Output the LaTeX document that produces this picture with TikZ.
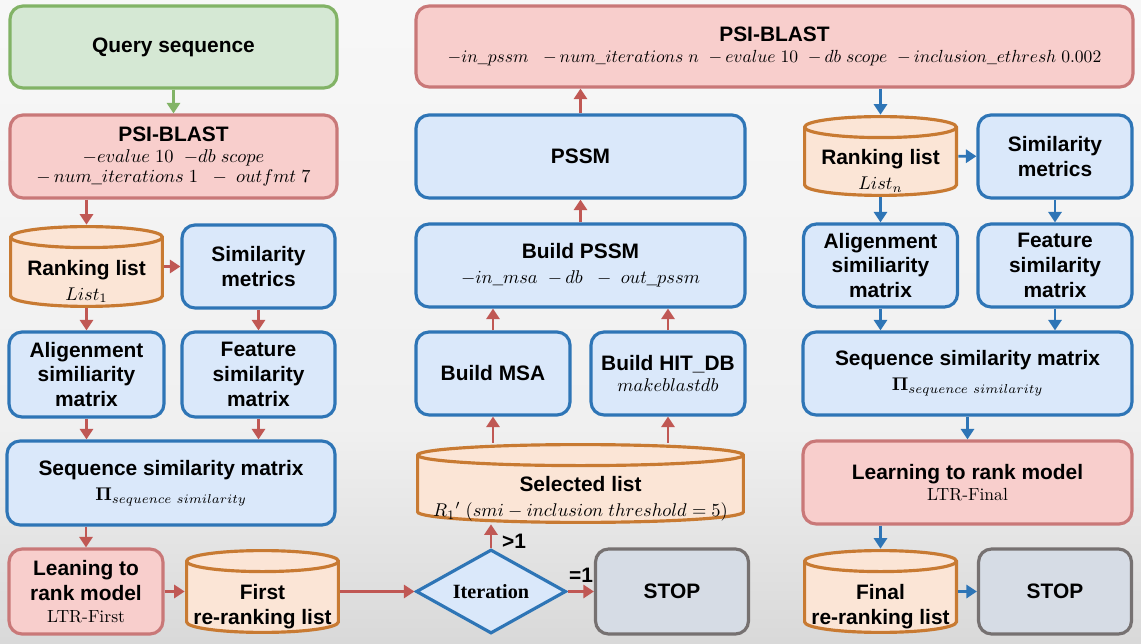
\RequirePackage{fix-cm}
\documentclass[tikz,border=0pt]{standalone}
\usepackage{amsmath}
\usepackage[no-math]{fontspec}
\setsansfont{Liberation Sans}
\newfontfamily\iterfont{Liberation Serif}
\usetikzlibrary{
    shapes, shapes.geometric,
    arrows.meta, positioning, calc
}
\definecolor{colGreen}{RGB}{130, 179, 102}
\definecolor{colGreenFill}{RGB}{213, 232, 212}
\definecolor{colRed}{RGB}{201, 120, 120}
\definecolor{colRedFill}{RGB}{248, 206, 204}
\definecolor{colArrRed}{RGB}{192, 88, 84}
\definecolor{colBlue}{RGB}{46, 117, 182}
\definecolor{colBlueFill}{RGB}{218, 232, 250}
\definecolor{colOrange}{RGB}{200, 122, 50}
\definecolor{colOrangeFill}{RGB}{251, 229, 214}
\definecolor{colGray}{RGB}{118, 113, 113}
\definecolor{colGrayFill}{RGB}{214, 220, 229}

\newcommand{\boxfont}{\sffamily\bfseries\fontsize{11.9}{14.2}\selectfont}
\newcommand{\mathsz}{\fontsize{10.5}{12}\selectfont}
\newcommand{\serifsz}{\rmfamily\mdseries\fontsize{10}{11}\selectfont}

\tikzset{
    dblist/.style={rectangle, inner sep=0pt, minimum width=3.1cm, minimum height=1.66cm,
        path picture={
            \draw[line width=1.8pt, draw=colOrange, fill=colOrangeFill]
                let \p1=(path picture bounding box.south west),
                    \p2=(path picture bounding box.north east),
                    \n1={(\x2-\x1)/2-0.9pt} in
                (\x1+0.9pt, \y2-0.21cm-0.9pt) -- (\x1+0.9pt, \y1+0.21cm+0.9pt)
                arc[start angle=180, end angle=360, x radius=\n1, y radius=0.21cm]
                -- (\x2-0.9pt, \y2-0.21cm-0.9pt)
                arc[start angle=0, end angle=180, x radius=\n1, y radius=0.21cm]
                -- cycle
                (\x1+0.9pt, \y2-0.21cm-0.9pt)
                arc[start angle=180, end angle=360, x radius=\n1, y radius=0.21cm];
        }},
    dbtext/.style={align=center, yshift=-0.3cm}
}

\begin{document}
\begin{tikzpicture}[x=0.02cm, y=-0.02cm,
    every node/.style={font=\boxfont},
    box/.style={rectangle, rounded corners=0.26cm, line width=1.8pt, align=center, inner sep=2pt},
    bluebox/.style={box, draw=colBlue, fill=colBlueFill},
    redbox/.style={box, draw=colRed, fill=colRedFill},
    greenbox/.style={box, draw=colGreen, fill=colGreenFill},
    stopbox/.style={box, draw=colGray, fill=colGrayFill, minimum width=3.06cm, minimum height=1.7cm},
    redarr/.style={draw=colArrRed, line width=1.6pt, -{Triangle[length=6pt, width=7.5pt]}},
    bluearr/.style={redarr, draw=colBlue},
    greenarr/.style={redarr, draw=colGreen}
]
    % --- Latar ---
    \useasboundingbox (0,0) rectangle (1141,644);
    \shade[top color=gray!6, bottom color=gray!12] (0,0) rectangle (1141,430);
    \shade[top color=gray!12, bottom color=gray!30] (0,430) rectangle (1141,644);

    % --- Kolom kiri ---
    \node[greenbox, minimum width=6.54cm, minimum height=1.64cm] (query) at (173.5,47) {Query sequence};
    \node[redbox, minimum width=6.54cm, minimum height=1.66cm] (psi1) at (173.5,156.5)
        {PSI-BLAST\\[-2pt]{\mathsz $-evalue\ 10\ \ {-}db\ scope$}\\[-3pt]{\mathsz ${-}\,num\_iterations\ 1\ \ -\ outfmt\ 7$}};
    \node[dblist, label={[dbtext]center:{Ranking list\\{\mathsz $List_1$}}}] (rank1) at (86.5,266.5) {};
    \node[bluebox, minimum width=3.06cm, minimum height=1.66cm] (simm1) at (258.5,266.5) {Similarity\\metrics};
    \node[bluebox, minimum width=3.1cm, minimum height=1.7cm] (align1) at (86.5,374.5) {Aligenment\\similiarity\\matrix};
    \node[bluebox, minimum width=3.06cm, minimum height=1.7cm] (feat1) at (258.5,374.5) {Feature\\similarity\\matrix};
    \node[bluebox, minimum width=6.56cm, minimum height=1.68cm] (seq1) at (171,483)
        {Sequence similarity matrix\\{\mathsz $\mathbf{\Pi}_{sequence\ similarity}$}};
    \node[redbox, minimum width=3.08cm, minimum height=1.7cm] (ltr1) at (86,591.5)
        {Leaning to\\rank model\\[-2pt]{\serifsz LTR-First}};
    \node[dblist, minimum height=1.7cm, label={[dbtext]center:{First\\re-ranking list}}] (first) at (262.5,591.5) {};

    % --- Kolom tengah ---
    \node[redbox, minimum width=14.34cm, minimum height=1.62cm] (psitop) at (774.5,46.5)
        {PSI-BLAST\\[-2pt]{\fontsize{10}{12}\selectfont $-in\_pssm\ \ \ {-}\,num\_iterations\ n\ \ {-}\,evalue\ 10\ \ {-}\,db\ scope\ \ {-}\,inclusion\_ethresh\ 0.002$}};
    \node[bluebox, minimum width=6.58cm, minimum height=1.66cm] (pssm) at (580.5,156.5) {PSSM};
    \node[bluebox, minimum width=6.58cm, minimum height=1.66cm] (bpssm) at (580.5,265.5)
        {Build PSSM\\{\mathsz $-in\_msa\ \ {-}\,db\ \ -\ out\_pssm$}};
    \node[bluebox, minimum width=3.08cm, minimum height=1.66cm] (bmsa) at (493,373.5) {Build MSA};
    \node[bluebox, minimum width=3.08cm, minimum height=1.66cm] (bhit) at (668,373.5)
        {Build HIT\_DB\\[-2pt]{\mathsz $makeblastdb$}};
    \node[dblist, minimum width=6.58cm, minimum height=1.62cm,
        label={[dbtext]center:{Selected list\\{\mathsz $R_1{}'\ (smi - inclusion\ threshold = 5)$}}}] (selected) at (580.5,483.5) {};
    \node[diamond, aspect=1.8, draw=colBlue, fill=colBlueFill, line width=1.8pt, inner sep=0pt,
        minimum width=3cm, minimum height=1.68cm, font=\iterfont\bfseries\fontsize{11.5}{13}\selectfont] (iter) at (491,591.5) {Iteration};
    \node[stopbox] (stop1) at (672,591.5) {STOP};
    \node (gt1) at (514,541) {>1};
    \node (eq1) at (581,575) {=1};

    % --- Kolom kanan ---
    \node[dblist, minimum height=1.64cm, label={[dbtext]center:{Ranking list\\{\mathsz $List_n$}}}] (rankn) at (880.5,156) {};
    \node[bluebox, minimum width=3.08cm, minimum height=1.66cm] (simm2) at (1055,156.5) {Similarity\\metrics};
    \node[bluebox, minimum width=3.08cm, minimum height=1.66cm] (align2) at (880.5,265.5) {Aligenment\\similiarity\\matrix};
    \node[bluebox, minimum width=3.08cm, minimum height=1.66cm] (feat2) at (1055,265.5) {Feature\\similarity\\matrix};
    \node[bluebox, minimum width=6.58cm, minimum height=1.66cm] (seq2) at (967.5,373.5)
        {Sequence similarity matrix\\{\mathsz $\mathbf{\Pi}_{sequence\ similarity}$}};
    \node[redbox, minimum width=6.58cm, minimum height=1.66cm] (ltr2) at (967.5,482.5)
        {Learning to rank model\\[-2pt]{\serifsz LTR-Final}};
    \node[dblist, minimum height=1.7cm, label={[dbtext]center:{Final\\re-ranking list}}] (final) at (880.5,591.5) {};
    \node[stopbox] (stop2) at (1055,591.5) {STOP};

    % --- Panah kiri ---
    \draw[greenarr] (query) -- (psi1);
    \draw[redarr] (psi1.south -| rank1) -- (rank1);
    \draw[redarr] (rank1) -- (simm1);
    \draw[redarr] (rank1) -- (align1);
    \draw[redarr] (simm1) -- (feat1);
    \draw[redarr] (align1) -- (align1 |- seq1.north);
    \draw[redarr] (feat1) -- (feat1 |- seq1.north);
    \draw[redarr] (seq1.south -| ltr1) -- (ltr1);
    \draw[redarr] (ltr1) -- (first);
    \draw[redarr] (first) -- (iter);

    % --- Panah tengah ---
    \draw[redarr] (iter) -- (iter |- selected.south);
    \draw[redarr] (iter) -- (stop1);
    \draw[redarr] (selected.north -| bmsa) -- (bmsa);
    \draw[redarr] (selected.north -| bhit) -- (bhit);
    \draw[redarr] (bmsa) -- (bmsa |- bpssm.south);
    \draw[redarr] (bhit) -- (bhit |- bpssm.south);
    \draw[redarr] (bpssm) -- (pssm);
    \draw[redarr] (pssm) -- (pssm |- psitop.south);

    % --- Panah kanan ---
    \draw[bluearr] (psitop.south -| rankn) -- (rankn);
    \draw[bluearr] (rankn) -- (simm2);
    \draw[bluearr] (rankn) -- (align2);
    \draw[bluearr] (simm2) -- (feat2);
    \draw[bluearr] (align2) -- (align2 |- seq2.north);
    \draw[bluearr] (feat2) -- (feat2 |- seq2.north);
    \draw[bluearr] (seq2) -- (ltr2);
    \draw[bluearr] (ltr2.south -| final) -- (final);
    \draw[bluearr] (final) -- (stop2);

\end{tikzpicture}
\end{document}
